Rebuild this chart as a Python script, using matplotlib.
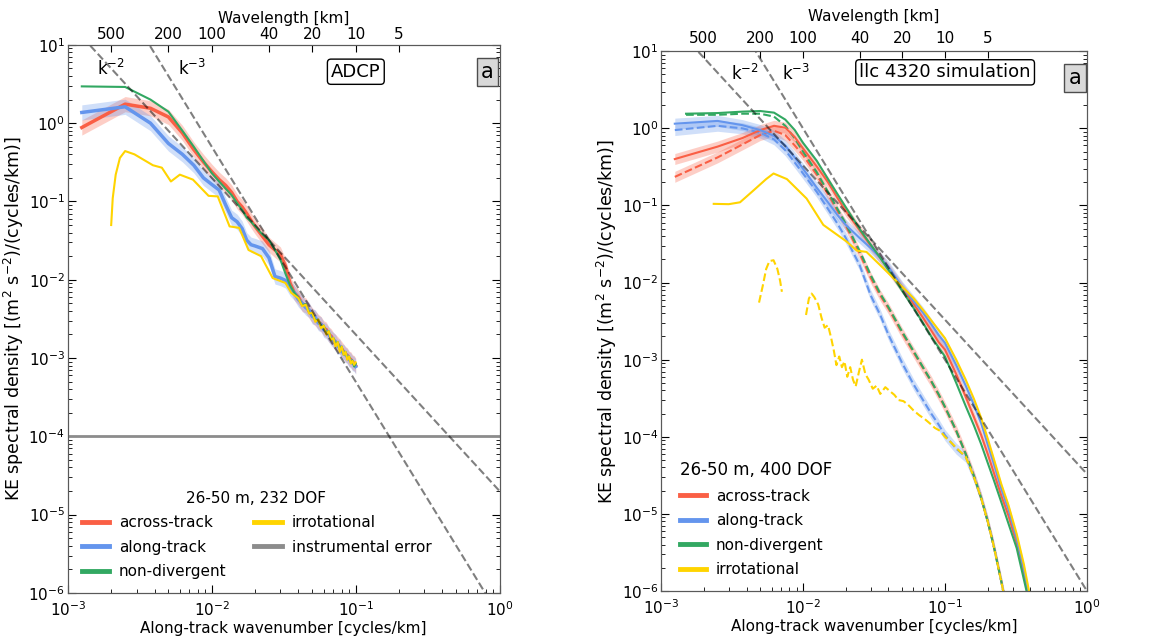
import numpy as np
import matplotlib
matplotlib.use("Agg")
from matplotlib import pyplot as plt
from matplotlib.lines import Line2D
from matplotlib.ticker import NullLocator

# ---------------- ADCP (left panel) ----------------
k_adcp = [0.00125, 0.0025, 0.00375, 0.005, 0.00625, 0.0075, 0.00875, 0.01, 0.01125, 0.0125,
          0.01375, 0.015, 0.01625, 0.0175, 0.01875, 0.02, 0.0225, 0.025, 0.0275, 0.03,
          0.0325, 0.035, 0.0375, 0.04, 0.0425, 0.045, 0.0475, 0.05, 0.0525, 0.055,
          0.0575, 0.06, 0.0625, 0.065, 0.0675, 0.07, 0.0725, 0.075, 0.0775, 0.08,
          0.0825, 0.085, 0.0875, 0.09, 0.0925, 0.095, 0.0975, 0.1]
across_adcp = [0.88, 1.75, 1.55, 1.2, 0.75, 0.46, 0.32, 0.24, 0.19, 0.16,
               0.13, 0.1, 0.085, 0.07, 0.057, 0.048, 0.036, 0.028, 0.024, 0.021,
               0.015, 0.009, 0.0068, 0.0060, 0.0049, 0.0047, 0.0040, 0.0035, 0.0032, 0.0029,
               0.0027, 0.0024, 0.0023, 0.0020, 0.0019, 0.0017, 0.0016, 0.0015, 0.0014, 0.0013,
               0.0012, 0.00112, 0.00108, 0.00098, 0.00096, 0.00088, 0.00086, 0.00080]
along_adcp = [1.37, 1.62, 1.0, 0.55, 0.4, 0.29, 0.2, 0.165, 0.14, 0.09,
              0.062, 0.055, 0.045, 0.032, 0.028, 0.027, 0.025, 0.019, 0.011, 0.0105,
              0.0098, 0.0078, 0.0068, 0.0056, 0.0050, 0.0044, 0.0041, 0.0034, 0.0033, 0.0028,
              0.0027, 0.0023, 0.0022, 0.0020, 0.0018, 0.0017, 0.0016, 0.0014, 0.0014, 0.0012,
              0.0012, 0.0011, 0.00105, 0.00096, 0.00093, 0.00086, 0.00084, 0.00078]
nondiv_adcp = [2.95, 2.9, 2.0, 1.4, 0.8, 0.5, 0.33, 0.23, 0.18, 0.145,
               0.12, 0.095, 0.078, 0.062, 0.055, 0.048, 0.038, 0.032, 0.024, 0.018,
               0.012, 0.0085, 0.0068, 0.0059, 0.0047, 0.0049, 0.0038, 0.0037, 0.0030, 0.0031,
               0.0025, 0.0026, 0.0021, 0.0022, 0.0017, 0.0018, 0.0015, 0.0016, 0.0013, 0.0014,
               0.0011, 0.0012, 0.00098, 0.00105, 0.00088, 0.00093, 0.00078, 0.00085]
k_irrot_adcp = [0.002, 0.00205, 0.00215, 0.0023, 0.0025, 0.0029, 0.0039, 0.0045, 0.0052, 0.006,
                0.0074, 0.0095, 0.011, 0.0133, 0.0155, 0.018, 0.022, 0.0265, 0.0325, 0.0357,
                0.04, 0.0425, 0.045, 0.0475, 0.05, 0.0525, 0.055, 0.0575, 0.06, 0.0625,
                0.065, 0.0675, 0.07, 0.0725, 0.075, 0.0775, 0.08, 0.0825, 0.085, 0.0875,
                0.09, 0.0925, 0.095, 0.0975, 0.1]
irrot_adcp = [0.05, 0.11, 0.22, 0.36, 0.44, 0.40, 0.29, 0.27, 0.18, 0.22,
              0.19, 0.118, 0.116, 0.048, 0.046, 0.024, 0.02, 0.0105, 0.0091, 0.0068,
              0.0058, 0.0046, 0.0048, 0.0037, 0.0038, 0.0029, 0.0031, 0.0024, 0.0026, 0.0020,
              0.0022, 0.0017, 0.0018, 0.0014, 0.0016, 0.0012, 0.0014, 0.0011, 0.0012, 0.00095,
              0.00105, 0.00085, 0.00092, 0.00082, 0.00088]
noise_level = 1e-4

# ---------------- llc 4320 (right panel) ----------------
k_llc = [0.00125, 0.0025, 0.00375, 0.005, 0.00625, 0.0075, 0.00875, 0.01, 0.0125, 0.015,
         0.0175, 0.02, 0.025, 0.03, 0.035, 0.04, 0.05, 0.06, 0.07, 0.08,
         0.09, 0.1, 0.12, 0.14, 0.16, 0.18, 0.2, 0.22, 0.25, 0.28,
         0.32, 0.36, 0.4]
k_llc_nd = [0.0015, 0.0025, 0.00375, 0.005, 0.00625, 0.0075, 0.00875, 0.01, 0.0125, 0.015,
            0.0175, 0.02, 0.025, 0.03, 0.035, 0.04, 0.05, 0.06, 0.07, 0.08,
            0.09, 0.1, 0.12, 0.14, 0.16, 0.18, 0.2, 0.22, 0.25, 0.28,
            0.32, 0.36, 0.4]
across_llc = [0.40, 0.58, 0.75, 0.95, 1.08, 1.02, 0.77, 0.55, 0.32, 0.2,
              0.125, 0.085, 0.048, 0.03, 0.021, 0.015, 0.0085, 0.0053, 0.0035, 0.0024,
              0.0017, 0.00135, 6.5e-4, 3.3e-4, 1.8e-4, 1.05e-4, 6e-5, 3.5e-5, 1.7e-5, 9.5e-6,
              4.2e-6, 1.7e-6, 6e-7]
along_llc = [1.15, 1.25, 1.1, 0.95, 0.8, 0.6, 0.42, 0.3, 0.17, 0.11,
             0.075, 0.056, 0.038, 0.028, 0.021, 0.016, 0.0088, 0.0058, 0.0041, 0.0029,
             0.0021, 0.00165, 8.5e-4, 4.6e-4, 2.6e-4, 1.5e-4, 8e-5, 4.6e-5, 2.1e-5, 1.15e-5,
             4.8e-6, 1.9e-6, 7e-7]
nondiv_llc = [1.55, 1.58, 1.65, 1.68, 1.6, 1.3, 0.95, 0.65, 0.38, 0.22,
              0.14, 0.095, 0.05, 0.031, 0.021, 0.0145, 0.0078, 0.0047, 0.003, 0.002,
              0.00145, 0.0011, 5e-4, 2.5e-4, 1.4e-4, 8e-5, 4.6e-5, 2.8e-5, 1.4e-5, 7.5e-6,
              3.6e-6, 1.4e-6, 6e-7]
k_irrot_llc = [0.00235, 0.003, 0.0036, 0.0045, 0.0055, 0.0062, 0.0077, 0.0106, 0.0139, 0.0203,
               0.0239, 0.028, 0.035, 0.048, 0.06, 0.074, 0.1, 0.12, 0.14, 0.16,
               0.18, 0.2, 0.22, 0.25, 0.28, 0.32, 0.36, 0.4]
irrot_llc = [0.105, 0.104, 0.11, 0.158, 0.22, 0.26, 0.22, 0.123, 0.056, 0.034,
             0.026, 0.025, 0.0168, 0.0095, 0.0063, 0.0039, 0.0019, 0.001, 5.5e-4, 3.1e-4,
             1.75e-4, 9.5e-5, 5.3e-5, 2.4e-5, 1.3e-5, 5.5e-6, 2.2e-6, 8e-7]

# dashed family
across_llc_d = [0.235, 0.42, 0.62, 0.82, 0.93, 0.82, 0.6, 0.45, 0.25, 0.14,
                0.085, 0.055, 0.024, 0.0115, 0.0068, 0.0046, 0.0022, 0.00125, 7.8e-4, 5.2e-4,
                3.5e-4, 2.4e-4, 1.2e-4, 6e-5, 3.1e-5, 1.6e-5, 8e-6, 3.9e-6, 1.3e-6, 4.5e-7,
                1.2e-7, 4e-8, 1.5e-8]
along_llc_d = [0.95, 1.08, 1.0, 0.88, 0.72, 0.52, 0.36, 0.26, 0.15, 0.09,
               0.058, 0.038, 0.017, 0.0068, 0.0038, 0.0021, 0.0009, 4.8e-4, 3e-4, 2e-4,
               1.45e-4, 1.05e-4, 7e-5, 5.5e-5, 3e-5, 1.6e-5, 8e-6, 3.9e-6, 1.3e-6, 4.5e-7,
               1.2e-7, 4e-8, 1.5e-8]
nondiv_llc_d = [1.5, 1.5, 1.55, 1.55, 1.42, 1.08, 0.74, 0.5, 0.27, 0.15,
                0.09, 0.058, 0.026, 0.0125, 0.0072, 0.0048, 0.0023, 0.0013, 8e-4, 5.3e-4,
                3.6e-4, 2.45e-4, 1.2e-4, 6e-5, 3.1e-5, 1.6e-5, 8e-6, 3.9e-6, 1.3e-6, 4.5e-7,
                1.2e-7, 4e-8, 1.5e-8]
k_irrot_llc_d = [0.0049, 0.0052, 0.0055, 0.0058, 0.0062, 0.0066, 0.0069, 0.0071, 0.009,
                 0.0105, 0.011, 0.0115, 0.012, 0.0128, 0.0135, 0.0142, 0.015, 0.0158, 0.0165,
                 0.0172, 0.018, 0.0188, 0.0196, 0.0205, 0.0215, 0.0225, 0.0235, 0.0248, 0.026,
                 0.0275, 0.029, 0.031, 0.033, 0.035, 0.038, 0.041, 0.044, 0.047, 0.051,
                 0.055, 0.06, 0.066, 0.072, 0.078, 0.085, 0.092, 0.1, 0.11, 0.12,
                 0.14, 0.16, 0.18, 0.2, 0.22, 0.25, 0.28]
irrot_llc_d = [0.0055, 0.009, 0.015, 0.019, 0.0195, 0.015, 0.0105, 0.0076, np.nan,
               0.0038, 0.0062, 0.0072, 0.0065, 0.0052, 0.0035, 0.0026, 0.0028, 0.0019, 0.0013,
               0.00085, 0.0011, 8e-4, 9.5e-4, 6e-4, 8e-4, 5.5e-4, 4.5e-4, 7e-4, 1e-3,
               6.5e-4, 5.5e-4, 4.2e-4, 4.6e-4, 3.6e-4, 4.4e-4, 3.9e-4, 3.5e-4, 3e-4, 2.9e-4,
               2.6e-4, 2.2e-4, 1.9e-4, 1.7e-4, 1.5e-4, 1.3e-4, 1.2e-4, 1e-4, 8.5e-5, 7.2e-5,
               5.5e-5, 3e-5, 1.6e-5, 8e-6, 3.9e-6, 1.3e-6, 4.5e-7]

wavelength_ticks = [500, 200, 100, 40, 20, 10, 5]

c_across = '#fa5f45'
c_along = '#6495ed'
c_nondiv = '#32a862'
c_irrot = '#ffd400'
c_noise = '0.55'

plt.rcParams['font.size'] = 11
plt.rcParams['mathtext.default'] = 'regular'

fig = plt.figure(figsize=(11.7, 6.41), dpi=100)
ax1 = fig.add_axes([0.058, 0.075, 0.369, 0.855])
ax2 = fig.add_axes([0.565, 0.078, 0.364, 0.842])


def band(ax, k, s, color, lo, hi, **kw):
    s = np.array(s)
    ax.fill_between(k, s * lo, s * hi, color=color, alpha=0.3, linewidth=0)
    ax.loglog(k, s, color=color, **kw)


def setup(ax, c2, c3, txt_pos, tpad, tlabpad):
    ks = np.array([1e-3, 1.0])
    ax.loglog(ks, c2 * ks**-2, '--', color='k', lw=1.5, alpha=0.5)
    ax.loglog(ks, c3 * ks**-3, '--', color='k', lw=1.5, alpha=0.5)
    ax.text(txt_pos[0], txt_pos[2], r'k$^{-2}$', fontsize=12)
    ax.text(txt_pos[1], txt_pos[2], r'k$^{-3}$', fontsize=12)
    ax.set_xlim(1e-3, 1)
    ax.set_ylim(1e-6, 10)
    ax.set_xlabel('Along-track wavenumber [cycles/km]', labelpad=2)
    ax.set_ylabel(r'KE spectral density [(m$^2$ s$^{-2}$)/(cycles/km)]', fontsize=12.5,
                  labelpad=2)
    ax.tick_params(which='both', direction='in', right=True)
    ax.tick_params(which='major', length=6)
    ax.tick_params(which='minor', length=3)
    ax.tick_params(axis='y', pad=2)
    ax.tick_params(axis='x', pad=5)
    for sp in ax.spines.values():
        sp.set_color('0.35')
    top = ax.twiny()
    top.set_xscale('log')
    top.set_xlim(ax.get_xlim())
    top.set_xticks([1.0 / w for w in wavelength_ticks])
    top.set_xticklabels([str(w) for w in wavelength_ticks])
    top.xaxis.set_minor_locator(NullLocator())
    top.tick_params(direction='in', length=5, pad=tpad)
    top.set_xlabel('Wavelength [km]', labelpad=tlabpad)
    for sp in top.spines.values():
        sp.set_color('0.35')
    ax.text(0.972, 0.951, 'a', transform=ax.transAxes, ha='center', va='center', fontsize=15,
            bbox=dict(boxstyle='square,pad=0.2', fc='0.85', ec='0.3'))


# ---- left panel
band(ax1, k_adcp, across_adcp, c_across, 0.8, 1.25, lw=2.5)
band(ax1, k_adcp, along_adcp, c_along, 0.8, 1.25, lw=2.5)
ax1.loglog(k_adcp, nondiv_adcp, color=c_nondiv, lw=1.5)
ax1.loglog(k_irrot_adcp, irrot_adcp, color=c_irrot, lw=1.5)
ax1.axhline(noise_level, color=c_noise, lw=2)
setup(ax1, 2e-5, 5e-7, (0.0016, 0.0058, 4.1), 2, 3)
ax1.text(0.667, 0.951, 'ADCP', transform=ax1.transAxes, ha='center', va='center', fontsize=13,
         bbox=dict(boxstyle='round,pad=0.2', fc='white', ec='k'))
h1 = [Line2D([], [], color=c, lw=3.5) for c in [c_across, c_along, c_nondiv, c_irrot, c_noise]]
leg1 = ax1.legend(h1, ['across-track', 'along-track', 'non-divergent', 'irrotational',
                       'instrumental error'],
                  ncol=2, loc='lower left', bbox_to_anchor=(0.0, 0.0), frameon=False,
                  title='26-50 m, 232 DOF', handlelength=1.8, handletextpad=0.65,
                  labelspacing=0.62, columnspacing=1.8, title_fontsize=11)

# ---- right panel
band(ax2, k_llc, across_llc_d, c_across, 0.85, 1.18, lw=1.5, ls='--')
band(ax2, k_llc, along_llc_d, c_along, 0.85, 1.18, lw=1.5, ls='--')
ax2.loglog(k_llc_nd, nondiv_llc_d, color=c_nondiv, lw=1.5, ls='--')
ax2.loglog(k_irrot_llc_d, irrot_llc_d, color=c_irrot, lw=1.5, ls='--')
band(ax2, k_llc, across_llc, c_across, 0.85, 1.18, lw=1.5)
band(ax2, k_llc, along_llc, c_along, 0.85, 1.18, lw=1.5)
ax2.loglog(k_llc_nd, nondiv_llc, color=c_nondiv, lw=1.5)
ax2.loglog(k_irrot_llc, irrot_llc, color=c_irrot, lw=1.5)
setup(ax2, 3.3e-5, 1e-6, (0.0031, 0.0071, 4.3), 4, 7)
ax2.text(0.667, 0.961, 'llc 4320 simulation', transform=ax2.transAxes, ha='center', va='center',
         fontsize=13, bbox=dict(boxstyle='round,pad=0.2', fc='white', ec='k'))
h2 = [Line2D([], [], color=c, lw=3.5) for c in [c_across, c_along, c_nondiv, c_irrot]]
leg2 = ax2.legend(h2, ['across-track', 'along-track', 'non-divergent', 'irrotational'],
                  loc='lower left', bbox_to_anchor=(0.012, 0.0), frameon=False,
                  title='26-50 m, 400 DOF', handlelength=1.7, handletextpad=0.65,
                  labelspacing=0.62, title_fontsize=12, alignment='left')

fig.savefig('out.png', dpi=100)
